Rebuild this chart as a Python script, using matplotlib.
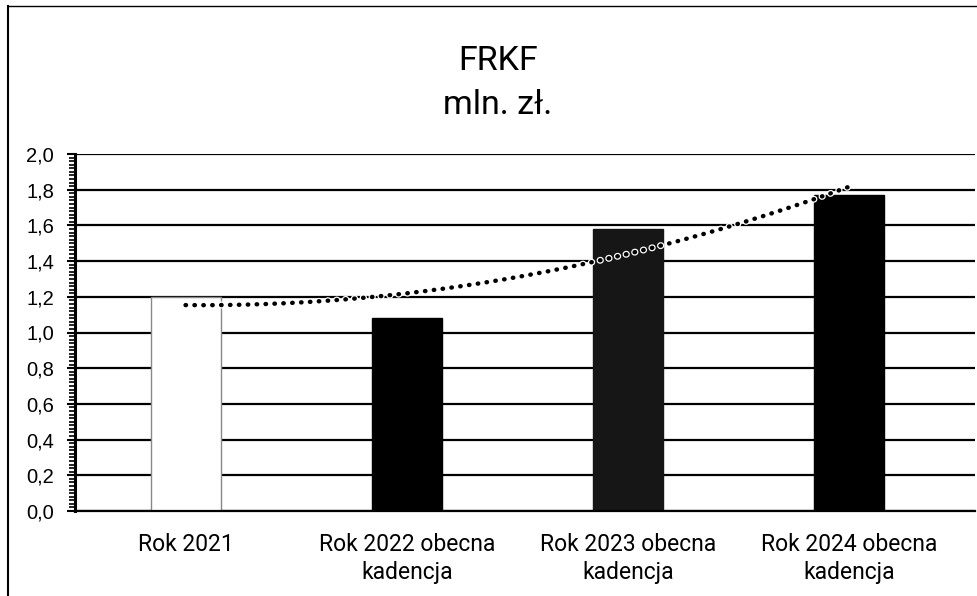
import numpy as np
import matplotlib
matplotlib.use("Agg")
import matplotlib.pyplot as plt
import matplotlib.patheffects as pe
from matplotlib.ticker import MultipleLocator, FuncFormatter

categories = ["Rok 2021", "Rok 2022 obecna\nkadencja", "Rok 2023 obecna\nkadencja", "Rok 2024 obecna\nkadencja"]
values = [1.20, 1.08, 1.58, 1.77]
bar_colors = ["white", "black", "#161616", "black"]
bar_edges = ["#888888", "black", "#161616", "black"]

plt.rcParams['font.family'] = ['Roboto', 'DejaVu Sans']

fig = plt.figure(figsize=(9.78, 5.96), dpi=100)
ax = fig.add_axes([75/978, 1-511/596, (975-75)/978, (511-154)/596])

x = np.arange(len(categories))
ax.bar(x, values, width=0.317, color=bar_colors, edgecolor=bar_edges, linewidth=1.0, zorder=2)

# polynomial (order 2) trendline
coef = np.polyfit(x, values, 2)
xt = np.linspace(x[0], x[-1], 200)
ax.plot(xt, np.polyval(coef, xt), color="black", linestyle=(0, (0.1, 1.9)), linewidth=3.2,
        dash_capstyle="round", zorder=3,
        path_effects=[pe.Stroke(linewidth=5, foreground="white"), pe.Normal()])

ax.set_xlim(-0.5, 3.57)
ax.set_ylim(0, 2.0)
ax.yaxis.set_major_locator(MultipleLocator(0.2))
ax.yaxis.set_minor_locator(MultipleLocator(0.02))
ax.yaxis.set_major_formatter(FuncFormatter(lambda v, p: f"{v:.1f}".replace(".", ",")))
ax.grid(axis="y", color="black", linewidth=1.6, zorder=1)
ax.set_axisbelow(True)

ax.set_xticks(x)
ax.set_xticklabels(categories, fontsize=16.5, linespacing=1.26)
ax.tick_params(axis="x", length=0, pad=16)
ax.tick_params(axis="y", which="major", length=6, width=1.5, labelsize=14.5, pad=9, direction="out")
ax.tick_params(axis="y", which="minor", length=4, width=1.2, direction="out")
for lab in ax.get_yticklabels():
    lab.set_family(['Liberation Sans', 'DejaVu Sans'])

for s in ["top", "right"]:
    ax.spines[s].set_visible(False)
ax.spines["left"].set_linewidth(2.2)
ax.spines["bottom"].set_linewidth(1.6)

fig.text(498/978, 1-61/596, "FRKF", ha="center", va="center", fontsize=24.5)
fig.text(498/978, 1-105/596, "mln. zł.", ha="center", va="center", fontsize=24.5)

# chart area border
fig.add_artist(plt.Line2D([8/978, 8/978], [0, 1-6/596], transform=fig.transFigure, color="black", linewidth=1.5))
fig.add_artist(plt.Line2D([8/978, 1], [1-6/596, 1-6/596], transform=fig.transFigure, color="black", linewidth=1.0))

fig.savefig("out.png", dpi=100)
